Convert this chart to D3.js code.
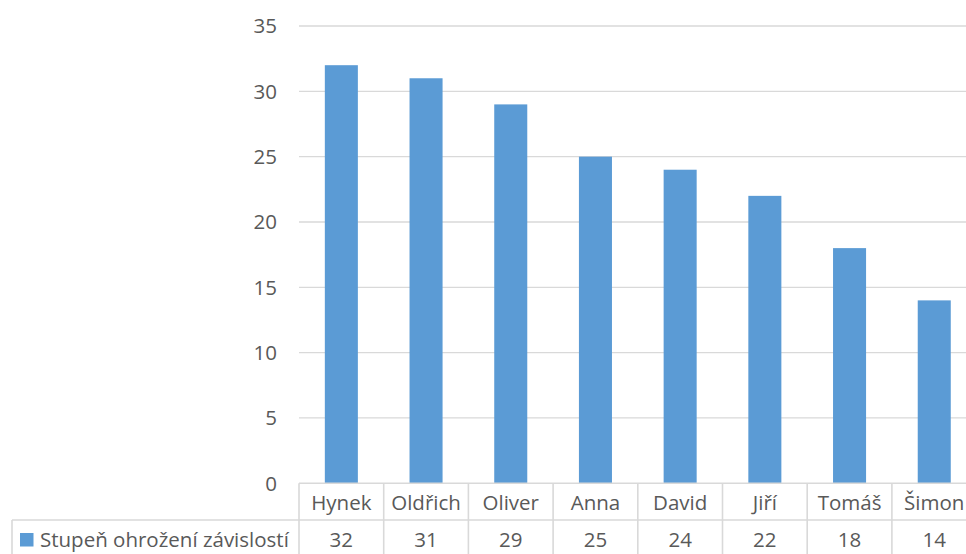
<!DOCTYPE html>
<html><head><meta charset="utf-8">
<script src="https://cdn.jsdelivr.net/npm/d3@7/dist/d3.min.js"></script>
<style>body{margin:0;background:#fff}svg{display:block}text{font-family:"Open Sans",Lato,sans-serif;fill:#595959}</style>
</head><body><svg id="c" width="966" height="554"></svg>
<script>
const categories = ["Hynek","Oldřich","Oliver","Anna","David","Jiří","Tomáš","Šimon"];
const values = [32,31,29,25,24,22,18,14];
const seriesName = "Stupeň ohrožení závislostí";
const yTicks = [0,5,10,15,20,25,30,35];

(function(){
const svg = d3.select("#c");
const pl = 299, pr = 976.6, pt = 26, pb = 483.3;
const x = d3.scaleBand().domain(categories).range([pl, pr]).paddingInner(0.61).paddingOuter(0.305);
const xb = d3.scaleBand().domain(categories).range([pl, pr]);
const y = d3.scaleLinear().domain([0,35]).range([pb, pt]);
const grid = "#d9d9d9";
const fs = 20.5;

svg.append("g").selectAll("line").data(yTicks.filter(d=>d>0)).join("line")
  .attr("x1", pl).attr("x2", 966).attr("y1", d=>y(d)).attr("y2", d=>y(d))
  .attr("stroke", grid).attr("stroke-width", 1.3);

svg.append("g").selectAll("text").data(yTicks).join("text")
  .attr("x", 277).attr("y", d=>y(d)+7.3).attr("text-anchor","end")
  .attr("font-size", fs).text(d=>d);

svg.append("g").selectAll("rect").data(values).join("rect")
  .attr("x", (d,i)=>x(categories[i])).attr("width", x.bandwidth())
  .attr("y", d=>y(d)).attr("height", d=>y(0)-y(d)).attr("fill", "#5b9bd5");

const rowMid = 520, tableBottom = 560;
const t = svg.append("g").attr("stroke", grid).attr("stroke-width", 1.6);
t.append("line").attr("x1", pl).attr("x2", 966).attr("y1", pb).attr("y2", pb);
t.append("line").attr("x1", 12).attr("x2", 966).attr("y1", rowMid).attr("y2", rowMid);
t.append("line").attr("x1", 12).attr("x2", 12).attr("y1", rowMid).attr("y2", tableBottom);
t.selectAll("line.v").data(categories).join("line").attr("class","v")
  .attr("x1", d=>xb(d)).attr("x2", d=>xb(d)).attr("y1", pb).attr("y2", tableBottom);

svg.append("g").selectAll("text").data(categories).join("text")
  .attr("x", d=>xb(d)+xb.bandwidth()/2).attr("y", 509.5).attr("text-anchor","middle")
  .attr("font-size", fs).text(d=>d);
svg.append("g").selectAll("text").data(values).join("text")
  .attr("x", (d,i)=>xb(categories[i])+xb.bandwidth()/2).attr("y", 546.7).attr("text-anchor","middle")
  .attr("font-size", fs).text(d=>d);

svg.append("rect").attr("x", 20).attr("y", 533).attr("width", 13.5).attr("height", 13.5).attr("fill", "#5b9bd5");
svg.append("text").attr("x", 40).attr("y", 546.7).attr("font-size", fs).text(seriesName);
})();
</script></body></html>
